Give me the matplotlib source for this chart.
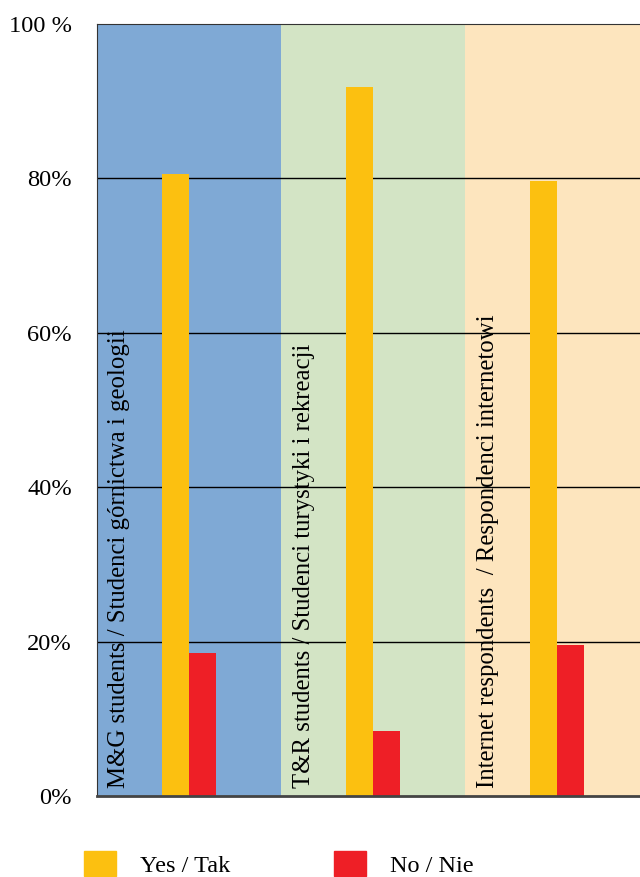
import matplotlib.pyplot as plt
from matplotlib.patches import Patch

plt.rcParams['font.family'] = ['Liberation Serif', 'DejaVu Serif']

groups = ["M&G students / Studenci górnictwa i geologii",
          "T&R students / Studenci turystyki i rekreacji",
          "Internet respondents  / Respondenci internetowi"]
yes = [80.6, 91.8, 79.7]
no = [18.5, 8.4, 19.6]
tick_vals = [0, 20, 40, 60, 80, 100]
tick_labels = ["0%", "20%", "40%", "60%", "80%", "100 %"]

bg_colors = ["#7FA9D5", "#D3E4C5", "#FDE5BE"]
yes_color = "#FCC010"
no_color = "#EE1F26"

fig = plt.figure(figsize=(6.4, 8.77), dpi=100)
ax = fig.add_axes([97 / 640, 1 - 796 / 877, 1 - 97 / 640, (796 - 24) / 877])

x = list(range(len(groups)))
w = 0.147
for i, c in zip(x, bg_colors):
    ax.axvspan(i - 0.5, i + 0.5, color=c, zorder=0, lw=0)
for v in tick_vals[1:-1]:
    ax.axhline(v, color="black", lw=1.0, zorder=1)

ax.bar([i - w / 2 for i in x], yes, width=w, color=yes_color, zorder=2)
ax.bar([i + w / 2 for i in x], no, width=w, color=no_color, zorder=2)

for i, g in zip(x, groups):
    ax.text(i - 0.378, 1.0, g, rotation=90, ha="center", va="bottom",
            fontsize=17.8, zorder=3)

ax.set_xlim(-0.5, 2.45)
ax.set_ylim(0, 100)
ax.set_yticks(tick_vals)
ax.set_yticklabels(tick_labels, fontsize=17.6)
ax.set_xticks([])
ax.tick_params(axis="y", length=0, pad=18)
ax.spines["right"].set_visible(False)
ax.spines["left"].set_color("#333333")
ax.spines["top"].set_color("#333333")
ax.spines["bottom"].set_color("#444444")
ax.spines["bottom"].set_linewidth(2)

handles = [Patch(color=yes_color, label="Yes / Tak"),
           Patch(color=no_color, label="No / Nie")]
fig.legend(handles=handles, loc="lower left", bbox_to_anchor=(84 / 640, 0.0),
           ncol=2, frameon=False, fontsize=17.5, borderpad=0, borderaxespad=0,
           handlelength=1.31, handleheight=1.19, handletextpad=1.0,
           columnspacing=4.26)

fig.savefig("out.png", dpi=100)
